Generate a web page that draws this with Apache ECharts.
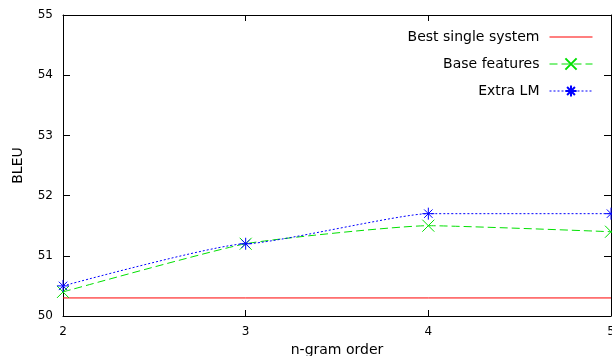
<!DOCTYPE html>
<html><head><meta charset="utf-8">
<script src="https://cdn.jsdelivr.net/npm/echarts@6/dist/echarts.min.js"></script>
<style>html,body{margin:0;padding:0;background:#fff}#c{width:612px;height:356px}</style>
</head><body><div id="c"></div>
<script>
const orders = [2, 3, 4, 5];
const bestSingle = [50.3, 50.3, 50.3, 50.3];
const baseFeatures = [50.4, 51.2, 51.5, 51.4];
const extraLM = [50.5, 51.2, 51.7, 51.7];
const yTicks = [50, 51, 52, 53, 54, 55];

const F = 'DejaVu Sans';
const crossPath = 'path://M0,0L10,10M10,0L0,10';
const starPath = 'path://M5,0L5,10M0,5L10,5M1.5,1.5L8.5,8.5M8.5,1.5L1.5,8.5';
const chart = echarts.init(document.getElementById('c'));
const pair = a => orders.map((x, i) => [x, a[i]]);
chart.setOption({
  animation: false,
  grid: {left: 63, right: 1, top: 15, bottom: 40, outerBoundsMode: 'none', containLabel: false},
  legend: {
    orient: 'vertical', right: 14, top: 25, align: 'right',
    itemWidth: 43, itemHeight: 14, itemGap: 13,
    lineStyle: {width: 1},
    textStyle: {fontFamily: F, fontSize: 14, color: '#000', padding: [0, 5, 0, 0]},
    data: [
      {name: 'Best single system', icon: 'path://M0,0L43,0L43,1L0,1Z'},
      'Base features', 'Extra LM'
    ]
  },
  xAxis: [{
    type: 'value', min: 2, max: 5, interval: 1,
    name: 'n-gram order', nameLocation: 'middle', nameGap: 26,
    nameTextStyle: {fontFamily: F, fontSize: 14, color: '#000'},
    axisLine: {lineStyle: {color: '#000', width: 1}},
    axisTick: {inside: true, length: 6, lineStyle: {color: '#000'}},
    axisLabel: {fontFamily: F, fontSize: 12, color: '#000', margin: 10, showMaxLabel: true},
    splitLine: {show: false}
  }, {
    type: 'value', min: 2, max: 5, interval: 1, position: 'top',
    axisLine: {show: true, lineStyle: {color: '#000', width: 1}},
    axisTick: {show: true, inside: true, length: 6, lineStyle: {color: '#000'}},
    axisLabel: {show: false}, splitLine: {show: false}
  }],
  yAxis: [{
    type: 'value', min: 50, max: 55, interval: 1,
    name: 'BLEU', nameLocation: 'middle', nameGap: 38, nameRotate: 90,
    nameTextStyle: {fontFamily: F, fontSize: 14, color: '#000'},
    axisLine: {show: true, lineStyle: {color: '#000', width: 1}},
    axisTick: {show: true, inside: true, length: 7, lineStyle: {color: '#000'}},
    axisLabel: {fontFamily: F, fontSize: 12, color: '#000', margin: 10},
    splitLine: {show: false}
  }, {
    type: 'value', min: 50, max: 55, interval: 1, position: 'right',
    axisLine: {show: true, lineStyle: {color: '#000', width: 1}},
    axisTick: {show: true, inside: true, length: 7, lineStyle: {color: '#000'}},
    axisLabel: {show: false}, splitLine: {show: false}
  }],
  series: [{
    name: 'Best single system', type: 'line', data: pair(bestSingle),
    showSymbol: false, symbol: 'none', symbolKeepAspect: true, color: '#ff0000',
    itemStyle: {color: '#ff0000'},
    lineStyle: {color: '#ff0000', width: 1}
  }, {
    name: 'Base features', type: 'line', data: pair(baseFeatures),
    smooth: 0.15, color: '#00e000',
    symbol: crossPath, symbolSize: 12,
    itemStyle: {color: 'rgba(0,0,0,0)', borderColor: '#00e000', borderWidth: 1},
    lineStyle: {color: '#00e000', width: 1, type: [8, 4]}
  }, {
    name: 'Extra LM', type: 'line', data: pair(extraLM),
    smooth: 0.15, smoothMonotone: 'x', color: '#0000ff',
    symbol: starPath, symbolSize: 12,
    itemStyle: {color: 'rgba(0,0,0,0)', borderColor: '#0000ff', borderWidth: 1},
    lineStyle: {color: '#0000ff', width: 1, type: [2, 2]}
  }]
});
</script></body></html>
